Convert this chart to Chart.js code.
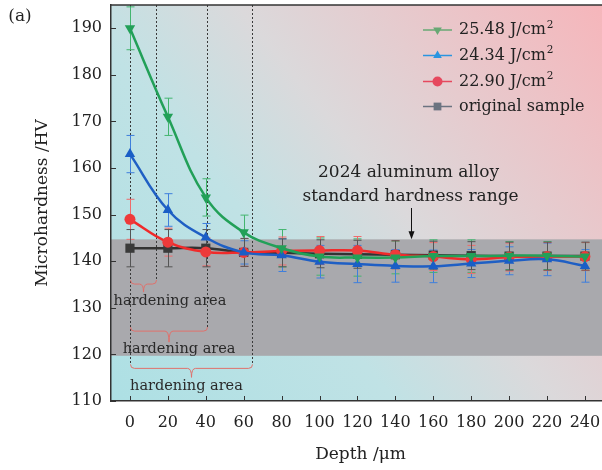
<!DOCTYPE html>
<html>
<head>
<meta charset="utf-8">
<script src="https://cdn.jsdelivr.net/npm/chart.js@4.4.1/dist/chart.umd.min.js"></script>
<style>
    html, body { margin: 0; padding: 0; background: #fff; }
    #wrap { width: 602px; height: 470px; }
</style>
</head>
<body>
<div id="wrap"><canvas id="hardnessChart" width="602" height="470"></canvas></div>
<script>
const depths = [0, 20, 40, 60, 80, 100, 120, 140, 160, 180, 200, 220, 240];
const xTicks = [0, 20, 40, 60, 80, 100, 120, 140, 160, 180, 200, 220, 240];
const yTicks = [110, 120, 130, 140, 150, 160, 170, 180, 190];

const hv2548 = [190, 171, 153.7, 146.2, 142.8, 141, 140.8, 140.8, 141.1, 141.1, 141.2, 141.2, 141];
const hv2434 = [163, 151, 145.1, 141.9, 141.3, 139.9, 139.4, 139, 138.9, 139.5, 140.1, 140.4, 139];
const hv2290 = [149, 144.1, 142, 141.9, 142.2, 142.3, 142.3, 141.4, 141, 140.4, 140.9, 141, 141];
const hvOriginal = [142.8, 142.8, 142.8, 141.9, 141.8, 141.6, 141.5, 141.4, 141.3, 141.2, 141.1, 141.1, 141.1];

const err2548 = [4.6, 4, 4, 3.7, 4, 4, 4, 3.5, 3.5, 3.5, 3, 3, 3];
const err2434 = [4, 3.5, 3, 2.5, 3.5, 3.5, 4, 3.5, 3.5, 3, 3, 3.5, 3.5];
const err2290 = [4.3, 3, 3, 3, 3, 3, 3, 3, 3, 3, 3, 3, 3];
const errOriginal = [4, 4, 4, 3, 3, 3, 3, 3, 3, 3, 3, 3, 3];

const seriesLabels = ['25.48 J/cm', '24.34 J/cm', '22.90 J/cm', 'original sample'];

// standard hardness range of 2024 aluminum alloy
const bandRange = [119.7, 144.7];
// depth where each hardened layer ends
const hardenEnds = [13.5, 40.5, 64.5];
const braceLevels = [135.1, 125, 117];

const serif = '"DejaVu Serif", "Liberation Serif", serif';

function toPoints(vals) {
    return depths.map((d, i) => ({ x: d, y: vals[i] }));
}

function drawBrace(ctx, x0, x1, yl, tip) {
    const xm = (x0 + x1) / 2;
    const r = 4;
    ctx.beginPath();
    ctx.moveTo(x0, yl - r);
    ctx.quadraticCurveTo(x0, yl, x0 + r, yl);
    ctx.lineTo(xm - r, yl);
    ctx.quadraticCurveTo(xm, yl, xm, yl + tip);
    ctx.quadraticCurveTo(xm, yl, xm + r, yl);
    ctx.lineTo(x1 - r, yl);
    ctx.quadraticCurveTo(x1, yl, x1, yl - r);
    ctx.stroke();
}

const decorPlugin = {
    id: 'decor',
    beforeDraw(chart) {
        const { ctx, chartArea: a, scales: { y } } = chart;
        ctx.save();
        const g = ctx.createLinearGradient(a.left, a.bottom, a.right, a.top);
        g.addColorStop(0, '#ade0e4');
        g.addColorStop(0.35, '#c0e2e5');
        g.addColorStop(0.55, '#dbd9db');
        g.addColorStop(1, '#f6b6bb');
        ctx.fillStyle = g;
        ctx.fillRect(a.left, a.top, a.right - a.left, a.bottom - a.top);

        const yTop = y.getPixelForValue(bandRange[1]);
        const yBot = y.getPixelForValue(bandRange[0]);
        ctx.fillStyle = '#a9a9ad';
        ctx.fillRect(a.left, yTop, a.right - a.left, yBot - yTop);
        ctx.restore();
    },
    beforeDatasetsDraw(chart) {
        const { ctx, chartArea: a, scales: { x, y } } = chart;
        ctx.save();

        // dotted guide lines
        ctx.strokeStyle = '#3a3a3a';
        ctx.lineWidth = 1;
        ctx.setLineDash([2, 2]);
        const x0 = x.getPixelForValue(0);
        const guides = [[0, braceLevels[2]], [hardenEnds[0], braceLevels[0]], [hardenEnds[1], braceLevels[1]], [hardenEnds[2], braceLevels[2]]];
        guides.forEach(([d, lvl]) => {
            const px = Math.round(x.getPixelForValue(d)) + 0.5;
            ctx.beginPath();
            ctx.moveTo(px, a.top);
            ctx.lineTo(px, y.getPixelForValue(lvl) - 4);
            ctx.stroke();
        });
        ctx.setLineDash([]);

        // braces
        ctx.strokeStyle = '#e0716c';
        ctx.lineWidth = 1;
        const tips = [8, 11, 9];
        hardenEnds.forEach((d, i) => {
            drawBrace(ctx, Math.round(x0) + 0.5, Math.round(x.getPixelForValue(d)) + 0.5, y.getPixelForValue(braceLevels[i]), tips[i]);
        });

        // hardening area labels
        ctx.fillStyle = '#2a2a2a';
        ctx.font = '14.5px ' + serif;
        ctx.textAlign = 'center';
        ctx.textBaseline = 'middle';
        const labelPos = [[21.1, 131.5], [25.9, 121.1], [29.8, 113.2]];
        labelPos.forEach(([d, v]) => {
            ctx.fillText('hardening area', x.getPixelForValue(d), y.getPixelForValue(v));
        });

        // error bars
        ctx.save();
        ctx.beginPath();
        ctx.rect(a.left, a.top, a.right - a.left, a.bottom - a.top);
        ctx.clip();
        const errSets = [
            [hv2548, err2548, '#43b56f'],
            [hv2434, err2434, '#3f7fdc'],
            [hv2290, err2290, '#ef6a6a'],
            [hvOriginal, errOriginal, '#555555']
        ];
        errSets.forEach(([vals, errs, color]) => {
            ctx.strokeStyle = color;
            ctx.lineWidth = 1;
            depths.forEach((d, i) => {
                const px = Math.round(x.getPixelForValue(d)) + 0.5;
                const yHi = y.getPixelForValue(vals[i] + errs[i]);
                const yLo = y.getPixelForValue(vals[i] - errs[i]);
                ctx.beginPath();
                ctx.moveTo(px, yHi);
                ctx.lineTo(px, yLo);
                ctx.moveTo(px - 4, yHi);
                ctx.lineTo(px + 4, yHi);
                ctx.moveTo(px - 4, yLo);
                ctx.lineTo(px + 4, yLo);
                ctx.stroke();
            });
        });
        ctx.restore();
        ctx.restore();
    },
    afterDraw(chart) {
        const { ctx, chartArea: a, scales: { x, y } } = chart;
        ctx.save();

        // frame top line and inner ticks
        ctx.strokeStyle = '#333';
        ctx.lineWidth = 1.5;
        ctx.beginPath();
        ctx.moveTo(a.left, a.top);
        ctx.lineTo(a.right, a.top);
        ctx.stroke();
        ctx.lineWidth = 1;
        ctx.beginPath();
        yTicks.forEach(v => {
            const py = Math.round(y.getPixelForValue(v)) + 0.5;
            ctx.moveTo(a.left, py);
            ctx.lineTo(a.left + 5, py);
        });
        xTicks.forEach(v => {
            const px = Math.round(x.getPixelForValue(v)) + 0.5;
            ctx.moveTo(px, a.bottom);
            ctx.lineTo(px, a.bottom - 5);
        });
        ctx.stroke();

        // axis titles
        ctx.fillStyle = '#222';
        ctx.font = '17px ' + serif;
        ctx.textAlign = 'center';
        ctx.textBaseline = 'middle';
        ctx.fillText('Depth /\u03bcm', (a.left + a.right) / 2 + 4, 455);
        ctx.save();
        ctx.translate(43, (a.top + a.bottom) / 2);
        ctx.rotate(-Math.PI / 2);
        ctx.fillText('Microhardness /HV', 0, 0);
        ctx.restore();
        ctx.fillText('(a)', 20, 17);

        // range annotation
        const ax = x.getPixelForValue(148);
        ctx.fillText('2024 aluminum alloy', ax - 2, 173);
        ctx.fillText('standard hardness range', ax, 197);
        ctx.strokeStyle = '#111';
        ctx.lineWidth = 1;
        const bandTop = y.getPixelForValue(bandRange[1]);
        ctx.beginPath();
        ctx.moveTo(Math.round(ax) + 0.5, 208);
        ctx.lineTo(Math.round(ax) + 0.5, bandTop - 4);
        ctx.stroke();
        ctx.fillStyle = '#111';
        ctx.beginPath();
        ctx.moveTo(Math.round(ax) + 0.5, bandTop);
        ctx.lineTo(Math.round(ax) - 2.5, bandTop - 8);
        ctx.lineTo(Math.round(ax) + 3.5, bandTop - 8);
        ctx.closePath();
        ctx.fill();

        // legend
        const legendColors = ['#68a874', '#2a95e0', '#e6485e', '#6b7380'];
        const legendStyles = [
            { pointStyle: 'triangle', rotation: 180, radius: 5 },
            { pointStyle: 'triangle', rotation: 0, radius: 5 },
            { pointStyle: 'circle', rotation: 0, radius: 5 },
            { pointStyle: 'rect', rotation: 0, radius: 5.5 }
        ];
        const rowY = [30, 55.5, 81.5, 106.5];
        seriesLabels.forEach((label, i) => {
            const ly = rowY[i];
            ctx.strokeStyle = legendColors[i];
            ctx.lineWidth = 1.5;
            ctx.beginPath();
            ctx.moveTo(423, ly);
            ctx.lineTo(452, ly);
            ctx.stroke();
            ctx.fillStyle = legendColors[i];
            Chart.helpers.drawPoint(ctx, Object.assign({ borderWidth: 0 }, legendStyles[i]), 437.5, ly);
            ctx.fillStyle = '#222';
            ctx.font = '16px ' + serif;
            ctx.textAlign = 'left';
            ctx.textBaseline = 'middle';
            ctx.fillText(label, 459, ly);
            if (i < 3) {
                const w = ctx.measureText(label).width;
                ctx.font = '10.5px ' + serif;
                ctx.fillText('2', 459 + w + 1, ly - 5);
            }
        });
        ctx.restore();
    }
};

const ctx = document.getElementById('hardnessChart').getContext('2d');
const hardnessChart = new Chart(ctx, {
    type: 'line',
    data: {
        datasets: [
            {
                label: seriesLabels[0],
                data: toPoints(hv2548),
                borderColor: '#22a058',
                pointBackgroundColor: '#22a058',
                pointStyle: 'triangle',
                rotation: 180,
                pointRadius: 6
            },
            {
                label: seriesLabels[1],
                data: toPoints(hv2434),
                borderColor: '#1f5fc4',
                pointBackgroundColor: '#1a5ec6',
                pointStyle: 'triangle',
                pointRadius: 6
            },
            {
                label: seriesLabels[2],
                data: toPoints(hv2290),
                borderColor: '#f02a2a',
                pointBackgroundColor: '#ee3a3a',
                pointStyle: 'circle',
                pointRadius: 5.5
            },
            {
                label: seriesLabels[3],
                data: toPoints(hvOriginal),
                borderColor: '#333333',
                pointBackgroundColor: '#3a3a3a',
                pointStyle: 'rect',
                pointRadius: 6.5
            }
        ]
    },
    options: {
        responsive: false,
        animation: false,
        devicePixelRatio: 1,
        layout: { autoPadding: false, padding: { top: 5, right: 0, left: 0, bottom: 0 } },
        datasets: {
            line: {
                borderWidth: 2.5,
                pointBorderWidth: 0,
                tension: 0.4,
                fill: false
            }
        },
        plugins: {
            legend: { display: false },
            tooltip: { enabled: false }
        },
        scales: {
            x: {
                type: 'linear',
                min: -10,
                max: 249,
                afterBuildTicks: scale => { scale.ticks = xTicks.map(v => ({ value: v })); },
                afterFit: scale => {
                    scale.height = 69;
                    scale.paddingLeft = 0;
                    scale.paddingRight = 0;
                },
                grid: { display: false, drawTicks: false },
                border: { display: true, color: '#333', width: 1.5 },
                ticks: {
                    padding: 12,
                    maxRotation: 0,
                    autoSkip: false,
                    color: '#222',
                    font: { family: serif, size: 16 }
                }
            },
            y: {
                min: 110,
                max: 195,
                afterBuildTicks: scale => { scale.ticks = yTicks.map(v => ({ value: v })); },
                afterFit: scale => {
                    scale.width = 111;
                    scale.paddingTop = 0;
                    scale.paddingBottom = 0;
                },
                grid: { display: false, drawTicks: false },
                border: { display: true, color: '#333', width: 1.5 },
                ticks: {
                    padding: 9,
                    color: '#222',
                    font: { family: serif, size: 16 }
                }
            }
        }
    },
    plugins: [decorPlugin]
});
</script>
</body>
</html>
